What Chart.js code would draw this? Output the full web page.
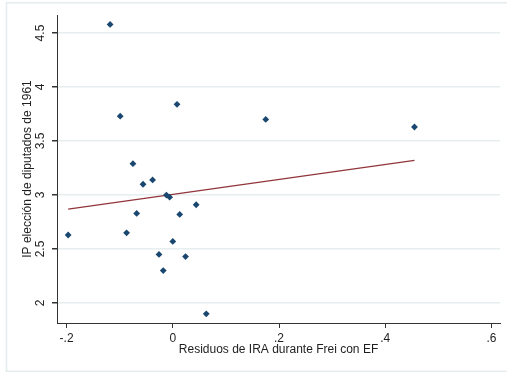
<!DOCTYPE html>
<html>
<head>
<meta charset="utf-8">
<script src="https://cdn.jsdelivr.net/npm/chart.js@4.4.1/dist/chart.umd.min.js"></script>
<style>
  html, body { margin: 0; padding: 0; background: #fff; }
  #wrap { width: 507px; height: 373px; }
</style>
</head>
<body>
<div id="wrap"><canvas id="grafico" width="507" height="373"></canvas></div>
<script>
// residuos de IRA (eje x) y IP de la elección de 1961 (eje y)
const residuos = [-0.118, -0.099, 0.008, -0.075, -0.056, -0.038, -0.012, -0.006, 0.044, 0.013,
                  -0.068, -0.087, -0.197, 0.000, -0.026, 0.024, -0.018, 0.063, 0.175, 0.455];
const ipDiputados = [4.58, 3.73, 3.84, 3.29, 3.10, 3.14, 3.00, 2.98, 2.91, 2.82,
                     2.83, 2.65, 2.63, 2.57, 2.45, 2.43, 2.30, 1.90, 3.70, 3.63];

// recta ajustada (extremos)
const ajusteX = [-0.197, 0.455];
const ajusteY = [2.87, 3.32];

const xTicks = [-0.2, 0, 0.2, 0.4, 0.6];
const xTickLabels = ['-.2', '0', '.2', '.4', '.6'];
const yTicks = [2, 2.5, 3, 3.5, 4, 4.5];
const yTickLabels = ['2', '2.5', '3', '3.5', '4', '4.5'];

const FUENTE = 'Arial, "Liberation Sans", sans-serif';
Chart.defaults.font.family = FUENTE;
Chart.defaults.font.size = 12;
Chart.defaults.color = '#1e1e1e';

// marco exterior + etiquetas del eje y giradas (estilo Stata)
const extras = {
    id: 'extras',
    beforeDraw(chart) {
        const ctx = chart.ctx;
        ctx.save();
        ctx.strokeStyle = '#e4ecee';
        ctx.lineWidth = 1.5;
        ctx.strokeRect(6.5, 2.75, 600, 368.5);
        ctx.restore();
    },
    afterDraw(chart) {
        const ctx = chart.ctx;
        const y = chart.scales.y;
        ctx.save();
        ctx.fillStyle = '#1e1e1e';
        ctx.font = '12px ' + FUENTE;
        ctx.textAlign = 'center';
        ctx.textBaseline = 'alphabetic';
        yTicks.forEach((v, i) => {
            ctx.save();
            ctx.translate(44, y.getPixelForValue(v));
            ctx.rotate(-Math.PI / 2);
            ctx.fillText(yTickLabels[i], 0, 0);
            ctx.restore();
        });
        ctx.restore();
    }
};

new Chart(document.getElementById('grafico'), {
    type: 'scatter',
    data: {
        datasets: [{
            label: 'IP elección de diputados de 1961',
            data: residuos.map((x, i) => ({ x, y: ipDiputados[i] })),
            pointStyle: 'rectRot',
            pointRadius: 3.4,
            backgroundColor: '#1a476f',
            borderColor: '#1a476f',
            borderWidth: 0,
            order: 1
        }, {
            label: 'Fitted values',
            data: ajusteX.map((x, i) => ({ x, y: ajusteY[i] })),
            showLine: true,
            pointRadius: 0,
            borderColor: '#90353b',
            borderWidth: 1.2,
            order: 2
        }]
    },
    options: {
        responsive: false,
        animation: false,
        layout: { padding: { left: 0, top: 15, right: 7, bottom: 0 } },
        plugins: { legend: { display: false }, tooltip: { enabled: false } },
        scales: {
            x: {
                type: 'linear',
                min: -0.218,
                max: 0.616,
                afterBuildTicks: s => { s.ticks = xTicks.map(v => ({ value: v })); },
                afterFit: s => { s.height = 50; },
                ticks: {
                    autoSkip: false,
                    maxRotation: 0,
                    padding: 3,
                    callback: (v, i) => xTickLabels[i]
                },
                grid: { drawOnChartArea: false, tickLength: 5, tickColor: '#333' },
                border: { display: true, color: '#333', width: 1 },
                title: {
                    display: true,
                    text: 'Residuos de IRA durante Frei con EF',
                    padding: { top: 0, bottom: 16 }
                }
            },
            y: {
                type: 'linear',
                min: 1.815,
                max: 4.667,
                afterBuildTicks: s => { s.ticks = yTicks.map(v => ({ value: v })); },
                afterFit: s => { s.width = 57; },
                ticks: { display: false },
                grid: { color: '#e6eef0', lineWidth: 1.5, tickLength: 5, tickColor: '#333' },
                border: { display: true, color: '#333', width: 1 },
                title: {
                    display: true,
                    text: 'IP elección de diputados de 1961',
                    padding: { top: 20, bottom: 0 }
                }
            }
        }
    },
    plugins: [extras]
});
</script>
</body>
</html>
